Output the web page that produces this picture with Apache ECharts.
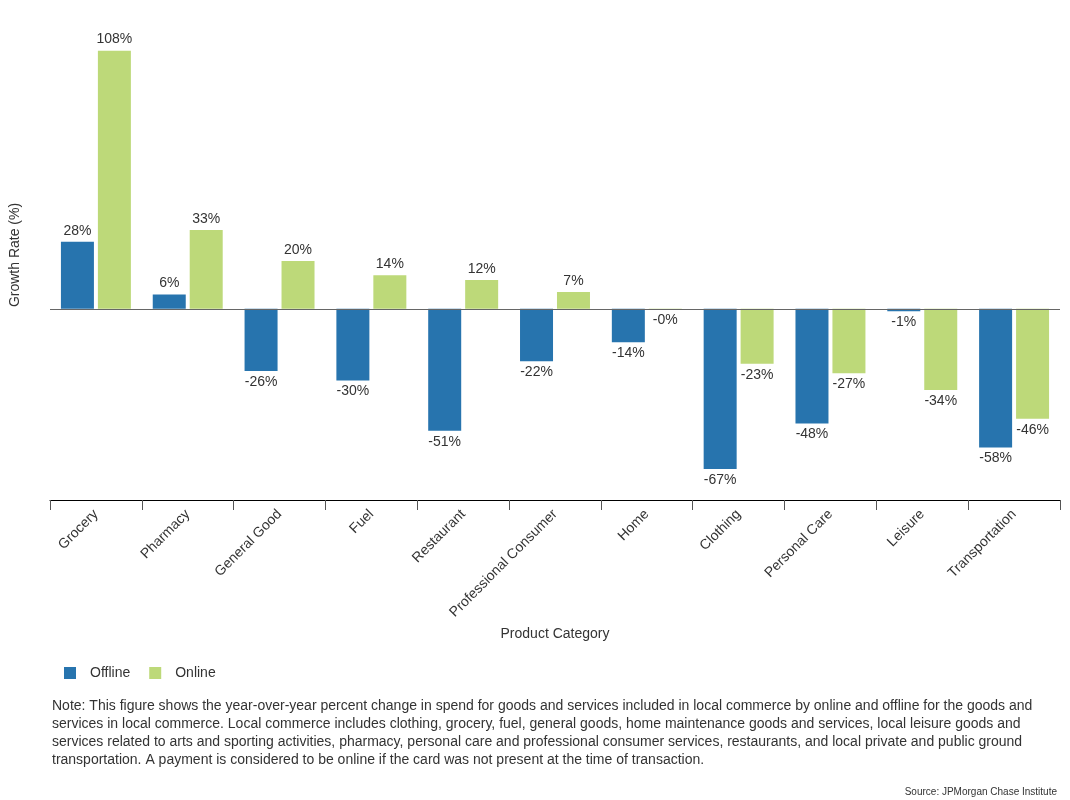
<!DOCTYPE html>
<html>
<head>
<meta charset="utf-8">
<script src="https://cdn.jsdelivr.net/npm/echarts@6/dist/echarts.min.js"></script>
<style>html,body{margin:0;padding:0;background:#fff}#c{width:1070px;height:800px}</style>
</head>
<body>
<div id="c"></div>
<script>
const categories = ['Grocery','Pharmacy','General Good','Fuel','Restaurant','Professional Consumer','Home','Clothing','Personal Care','Leisure','Transportation'];
const offline = [28, 6, -26, -30, -51, -22, -14, -67, -48, -1, -58];
const online = [108, 33, 20, 14, 12, 7, -0.2, -23, -27, -34, -46];
const noteLines = [
  'Note: This figure shows the year-over-year percent change in spend for goods and services included in local commerce by online and offline for the goods and',
  'services in local commerce. Local commerce includes clothing, grocery, fuel, general goods, home maintenance goods and services, local leisure goods and',
  'services related to arts and sporting activities, pharmacy, personal care and professional consumer services, restaurants, and local private and public ground',
  'transportation. A payment is considered to be online if the card was not present at the time of transaction.'
];
const FONT = '"Liberation Sans", Arial, sans-serif';
function fmt(v){ return (v < 0 ? '-' : '') + Math.abs(Math.round(v)) + '%'; }
function mk(arr){
  return arr.map(v => ({value: v, label: {position: v < 0 ? 'bottom' : 'top'}}));
}
const chart = echarts.init(document.getElementById('c'), null, {renderer:'canvas'});
chart.setOption({
  animation: false,
  textStyle: {fontFamily: FONT},
  grid: {left: 50, right: 10, top: 10, bottom: 300, outerBoundsMode: 'none', containLabel: false},
  legend: {
    left: 59, top: 661, itemWidth: 12, itemHeight: 12, itemGap: 19,
    icon: 'rect',
    textStyle: {fontSize: 14, color: '#333', fontFamily: FONT, padding: [0, 0, 0, 9]},
    data: ['Offline','Online']
  },
  xAxis: {
    type: 'category', data: categories,
    axisLine: {onZero: false, lineStyle: {color: '#000', width: 1}},
    axisTick: {show: true, alignWithLabel: false, length: 10, lineStyle: {color: '#555'}},
    axisLabel: {rotate: 45, fontSize: 14, color: '#333', margin: 12, fontFamily: FONT, interval: 0},
    name: 'Product Category', nameLocation: 'middle', nameGap: 124,
    nameTextStyle: {fontSize: 14, color: '#333', fontFamily: FONT}
  },
  yAxis: {
    type: 'value', min: -80, max: 125,
    axisLine: {show: false}, axisTick: {show: false}, axisLabel: {show: false}, splitLine: {show: false},
    name: 'Growth Rate (%)', nameLocation: 'middle', nameGap: 28,
    nameTextStyle: {fontSize: 14, color: '#333', fontFamily: FONT}
  },
  series: [
    {
      name: 'Offline', type: 'bar', data: mk(offline), barWidth: 33, barGap: '12%',
      itemStyle: {color: '#2774ae'},
      label: {show: true, formatter: p => fmt(p.value), fontSize: 14, color: '#333', distance: 4, fontFamily: FONT},
      markLine: {
        silent: true, symbol: 'none', label: {show: false},
        lineStyle: {color: '#666', width: 1, type: 'solid'},
        data: [{yAxis: 0}]
      }
    },
    {
      name: 'Online', type: 'bar', data: mk(online), barWidth: 33,
      itemStyle: {color: '#bdd979'},
      label: {show: true, formatter: p => fmt(p.value), fontSize: 14, color: '#333', distance: 4, fontFamily: FONT}
    }
  ],
  graphic: [
    {type: 'text', left: 52, top: 697, style: {text: noteLines.join('\n'), fontSize: 14, lineHeight: 18, fill: '#333', fontFamily: FONT}},
    {type: 'text', right: 13, top: 787, style: {text: 'Source: JPMorgan Chase Institute', fontSize: 10, fill: '#333', fontFamily: FONT}}
  ]
});
</script>
</body>
</html>
